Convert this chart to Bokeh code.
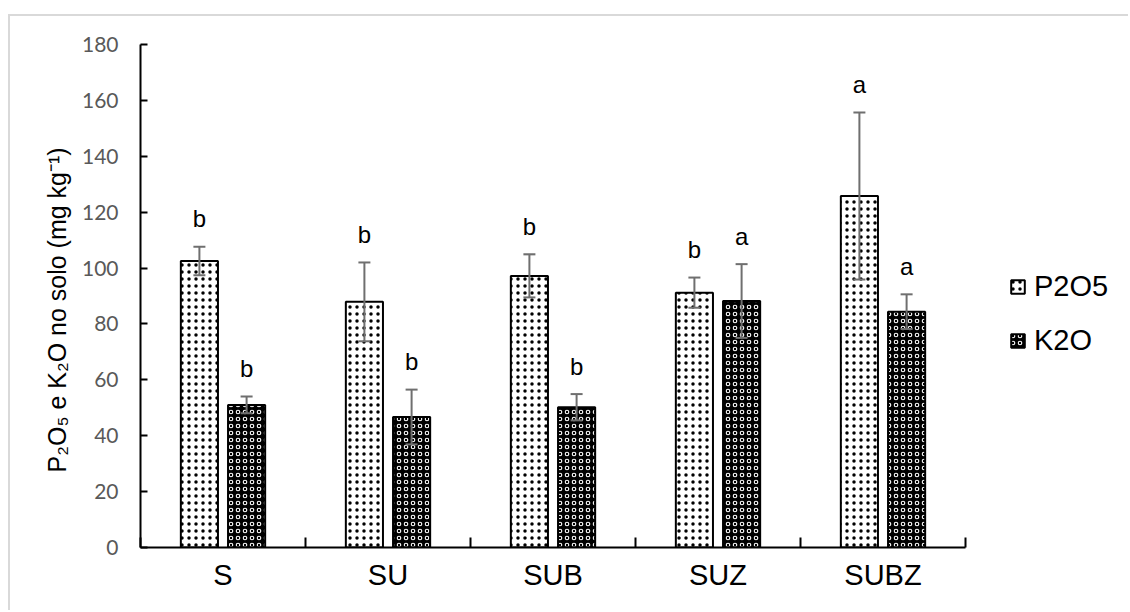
from bokeh.plotting import figure
from bokeh.models import (ColumnDataSource, FixedTicker, Whisker, TeeHead,
                          Legend, LegendItem, Range1d)
from bokeh.core.properties import value
from bokeh.embed import file_html
from bokeh.resources import INLINE

# Soil P2O5 and K2O contents per treatment (mg kg-1), mean and error
categories = ["S", "SU", "SUB", "SUZ", "SUBZ"]
p2o5 = [102.5, 87.9, 97.2, 91.2, 125.8]
p2o5_err = [5.1, 14.1, 7.7, 5.4, 29.9]
k2o = [51.0, 46.7, 50.2, 88.2, 84.4]
k2o_err = [3.0, 9.8, 4.7, 13.2, 6.2]
p2o5_letters = ["b", "b", "b", "b", "a"]
k2o_letters = ["b", "b", "b", "a", "a"]
y_ticks = [0, 20, 40, 60, 80, 100, 120, 140, 160, 180]

ARIAL = "Liberation Sans"
OFFSET = 0.143
BAR_W = 0.225
LETTER_GAP = 10
N = len(categories)

centers = [i + 0.5 for i in range(N)]


def series_source(vals, errs, letters, shift):
    xs = [c + shift for c in centers]
    return ColumnDataSource(dict(
        x=xs, top=vals,
        upper=[v + e for v, e in zip(vals, errs)],
        lower=[v - e for v, e in zip(vals, errs)],
        ly=[v + e + LETTER_GAP for v, e in zip(vals, errs)],
        letter=letters,
    ))


src_p = series_source(p2o5, p2o5_err, p2o5_letters, -OFFSET)
src_k = series_source(k2o, k2o_err, k2o_letters, OFFSET)

# the frame runs to the right edge so the legend sits inside it;
# the x axis itself is bounded to the five groups
p = figure(width=1120, height=596, output_backend="svg", toolbar_location=None,
           x_range=Range1d(0, 6), y_range=Range1d(0, 180),
           min_border_left=130, min_border_right=0,
           min_border_top=28, min_border_bottom=65,
           styles={"margin-left": "8px", "margin-top": "14px",
                   "border-left": "2px solid #d9d9d9",
                   "border-top": "2px solid #d9d9d9"})
p.outline_line_color = None
p.grid.visible = False
p.background_fill_color = "white"
p.border_fill_color = "white"

r_p = p.vbar(x="x", top="top", width=BAR_W, source=src_p,
             fill_color="white", line_color="black", line_width=2,
             hatch_pattern="dot", hatch_color="black",
             hatch_scale=7, hatch_weight=0.1)
r_k = p.vbar(x="x", top="top", width=BAR_W, source=src_k,
             fill_color="black", line_color="black", line_width=2,
             hatch_pattern="ring", hatch_color="white",
             hatch_scale=7, hatch_weight=1.1)

for src in (src_p, src_k):
    w = Whisker(source=src, base="x", upper="upper", lower="lower",
                line_color="#6f6f6f", line_width=2, level="overlay",
                upper_head=TeeHead(size=12, line_color="#6f6f6f", line_width=2),
                lower_head=TeeHead(size=12, line_color="#6f6f6f", line_width=2))
    p.add_layout(w)
    p.text(x="x", y="ly", text="letter", source=src,
           text_font=value(ARIAL), text_font_size="24px",
           text_color="black", text_align="center",
           text_baseline="middle")

# x axis: labels at group centres, ticks at group boundaries
xa = p.xaxis[0]
xa.bounds = (0, N)
xa.ticker = FixedTicker(ticks=centers, minor_ticks=list(range(N + 1)))
xa.major_label_overrides = {c: name for c, name in zip(centers, categories)}
xa.major_tick_line_color = None
xa.minor_tick_in = 10
xa.minor_tick_out = 0
xa.minor_tick_line_color = "black"
xa.minor_tick_line_width = 2
xa.axis_line_color = "black"
xa.axis_line_width = 2
xa.major_label_text_font = ARIAL
xa.major_label_text_font_size = "29px"
xa.major_label_text_color = "black"
xa.major_label_standoff = 5

ya = p.yaxis[0]
ya.ticker = FixedTicker(ticks=y_ticks, minor_ticks=[])
ya.major_tick_in = 7
ya.major_tick_out = 0
ya.major_tick_line_color = "black"
ya.major_tick_line_width = 2
ya.axis_line_color = "black"
ya.axis_line_width = 2
ya.major_label_text_font = "Lato"
ya.major_label_text_font_size = "21px"
ya.major_label_text_color = "#595959"
ya.major_label_standoff = 22
ya.axis_label = "P\u2082O\u2085 e K\u2082O no solo (mg kg\u207b\u00b9)" + "\u00a0" * 4
ya.axis_label_text_font = ARIAL
ya.axis_label_text_font_size = "25px"
ya.axis_label_text_font_style = "normal"
ya.axis_label_text_color = "black"
ya.axis_label_standoff = 8

legend = Legend(items=[LegendItem(label="P2O5", renderers=[r_p]),
                       LegendItem(label="K2O", renderers=[r_k])],
                location=(869, 190), orientation="vertical",
                glyph_width=17, glyph_height=17, label_height=30,
                label_standoff=8, spacing=21, padding=0, margin=0,
                border_line_color=None, background_fill_alpha=0,
                label_text_font=ARIAL, label_text_font_size="29px",
                label_text_color="black")
p.add_layout(legend)

open("out.html", "w").write(file_html(p, INLINE))
